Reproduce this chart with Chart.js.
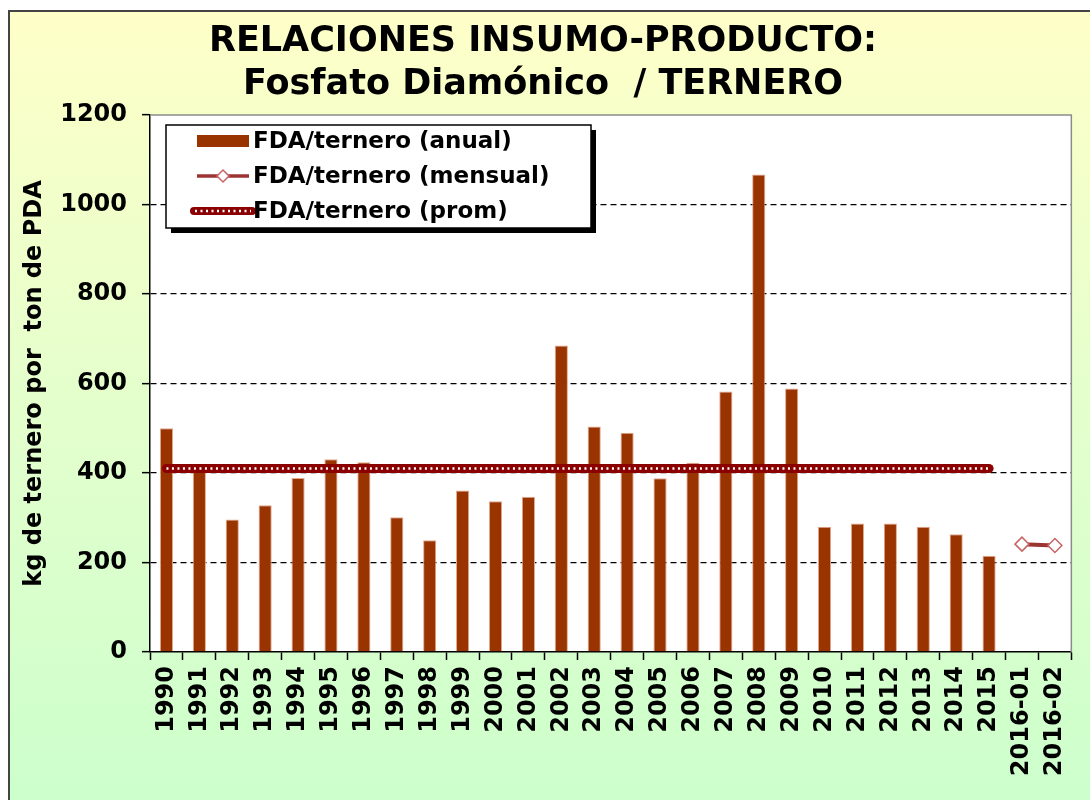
<!DOCTYPE html>
<html>
<head>
<meta charset="utf-8">
<script src="https://cdn.jsdelivr.net/npm/chart.js@4"></script>
<style>
  html, body { margin: 0; padding: 0; background: #ffffff; }
  #wrap { width: 1090px; height: 800px; position: relative; }
</style>
</head>
<body>
<div id="wrap"><canvas id="c" width="1090" height="800"></canvas></div>
<script>
// Categories: years and the first months of 2016
const categories = ['1990','1991','1992','1993','1994','1995','1996','1997','1998','1999',
  '2000','2001','2002','2003','2004','2005','2006','2007','2008','2009',
  '2010','2011','2012','2013','2014','2015','2016-01','2016-02'];

// kg of calf per ton of diammonium phosphate, yearly
const annualValues = [500, 405, 296, 328, 389, 431, 424, 301, 250, 361,
  337, 347, 685, 504, 490, 388, 423, 582, 1067, 589,
  280, 287, 287, 280, 263, 215, null, null];

// monthly values for 2016
const monthlyValues = [null, null, null, null, null, null, null, null, null, null,
  null, null, null, null, null, null, null, null, null, null,
  null, null, null, null, null, null, 241, 238];

// long-run average over the yearly series
const averageValues = [410, 410, 410, 410, 410, 410, 410, 410, 410, 410,
  410, 410, 410, 410, 410, 410, 410, 410, 410, 410,
  410, 410, 410, 410, 410, 410, null, null];

const yTicks = [0, 200, 400, 600, 800, 1000, 1200];

const seriesLabels = ['FDA/ternero (anual)', 'FDA/ternero (mensual)', 'FDA/ternero (prom)'];
const titleLines = ['RELACIONES INSUMO-PRODUCTO:', 'Fosfato Diamónico  / TERNERO'];
const yAxisTitle = 'kg de ternero por  ton de PDA';

const BAR = '#993300';
const MONTH = '#9c3434';
const AVG = '#8b0000';
const FAMILY = '"DejaVu Sans", Verdana, sans-serif';
const TICK_FONT = { family: FAMILY, size: 24, weight: 'bold' };

// page background, frame, white plot area and titles
const backdrop = {
  id: 'backdrop',
  beforeDraw(chart) {
    const { ctx, chartArea: a, width, height } = chart;
    ctx.save();
    ctx.fillStyle = '#ffffff';
    ctx.fillRect(0, 0, width, height);
    const g = ctx.createLinearGradient(0, 10, 0, height);
    g.addColorStop(0, '#ffffc8');
    g.addColorStop(0.45, '#e6ffcc');
    g.addColorStop(1, '#ccffcc');
    ctx.fillStyle = g;
    ctx.fillRect(9, 11, width - 9, height - 11);
    ctx.strokeStyle = '#444444';
    ctx.lineWidth = 2;
    ctx.beginPath();
    ctx.moveTo(9, height);
    ctx.lineTo(9, 11);
    ctx.lineTo(width, 11);
    ctx.stroke();
    ctx.fillStyle = '#ffffff';
    ctx.fillRect(a.left, a.top, a.right - a.left, a.bottom - a.top);
    ctx.fillStyle = '#000000';
    ctx.textAlign = 'center';
    ctx.textBaseline = 'middle';
    ctx.font = 'bold 35px ' + FAMILY;
    ctx.fillText(titleLines[0], 543, 42);
    ctx.fillText(titleLines[1], 543, 85);
    ctx.restore();
  },
  beforeDatasetsDraw(chart) {
    const { ctx, chartArea: a } = chart;
    ctx.save();
    ctx.strokeStyle = '#8c8c8c';
    ctx.lineWidth = 1.5;
    ctx.beginPath();
    ctx.moveTo(a.left, a.top);
    ctx.lineTo(a.right, a.top);
    ctx.lineTo(a.right, a.bottom);
    ctx.stroke();
    ctx.restore();
  }
};

// white dotted overlay on the thick average line
const dottedAverage = {
  id: 'dottedAverage',
  afterDatasetDraw(chart, args) {
    if (args.index !== 2) return;
    const pts = args.meta.data.filter((p, i) => averageValues[i] !== null);
    if (!pts.length) return;
    const { ctx } = chart;
    ctx.save();
    ctx.strokeStyle = '#ffffff';
    ctx.lineWidth = 2.5;
    ctx.setLineDash([2, 3.5]);
    ctx.beginPath();
    ctx.moveTo(pts[0].x, pts[0].y);
    ctx.lineTo(pts[pts.length - 1].x, pts[pts.length - 1].y);
    ctx.stroke();
    ctx.restore();
  }
};

// boxed legend with a drop shadow inside the plot area
const boxLegend = {
  id: 'boxLegend',
  afterDraw(chart) {
    const { ctx } = chart;
    const x = 166, y = 125, w = 425, h = 103;
    ctx.save();
    ctx.fillStyle = '#000000';
    ctx.fillRect(x + 5, y + 5, w, h);
    ctx.fillStyle = '#ffffff';
    ctx.fillRect(x, y, w, h);
    ctx.strokeStyle = '#000000';
    ctx.lineWidth = 1.5;
    ctx.strokeRect(x, y, w, h);
    const rows = [141, 176, 211];
    const sx0 = 197, sx1 = 249;
    // bars
    ctx.fillStyle = BAR;
    ctx.fillRect(sx0, rows[0] - 6, sx1 - sx0, 12);
    // monthly line with diamond marker
    ctx.strokeStyle = MONTH;
    ctx.lineWidth = 3.5;
    ctx.beginPath();
    ctx.moveTo(sx0, rows[1]);
    ctx.lineTo(sx1, rows[1]);
    ctx.stroke();
    const mx = (sx0 + sx1) / 2;
    ctx.fillStyle = '#ffffff';
    ctx.strokeStyle = '#c86464';
    ctx.lineWidth = 1.5;
    ctx.beginPath();
    ctx.moveTo(mx, rows[1] - 6);
    ctx.lineTo(mx + 6, rows[1]);
    ctx.lineTo(mx, rows[1] + 6);
    ctx.lineTo(mx - 6, rows[1]);
    ctx.closePath();
    ctx.fill();
    ctx.stroke();
    // average line
    ctx.strokeStyle = AVG;
    ctx.lineWidth = 8;
    ctx.lineCap = 'round';
    ctx.beginPath();
    ctx.moveTo(sx0 - 3, rows[2]);
    ctx.lineTo(sx1 + 3, rows[2]);
    ctx.stroke();
    ctx.lineCap = 'butt';
    ctx.strokeStyle = '#ffffff';
    ctx.lineWidth = 2.5;
    ctx.setLineDash([2, 3.5]);
    ctx.beginPath();
    ctx.moveTo(sx0 - 2, rows[2]);
    ctx.lineTo(sx1 + 2, rows[2]);
    ctx.stroke();
    ctx.setLineDash([]);
    // labels
    ctx.fillStyle = '#000000';
    ctx.textAlign = 'left';
    ctx.textBaseline = 'middle';
    ctx.font = 'bold 23px ' + FAMILY;
    seriesLabels.forEach((t, i) => ctx.fillText(t, 253, rows[i] + 1));
    ctx.restore();
  }
};

new Chart(document.getElementById('c'), {
  data: {
    labels: categories,
    datasets: [
      {
        type: 'bar',
        label: seriesLabels[0],
        data: annualValues,
        backgroundColor: BAR,
        borderColor: '#e3a98e',
        borderWidth: 1,
        barPercentage: 0.8,
        categoryPercentage: 0.5,
        order: 3
      },
      {
        type: 'line',
        label: seriesLabels[1],
        data: monthlyValues,
        borderColor: MONTH,
        borderWidth: 4,
        pointStyle: 'rectRot',
        pointRadius: 7,
        pointBackgroundColor: '#ffffff',
        pointBorderColor: '#c86464',
        pointBorderWidth: 1.5,
        spanGaps: false,
        order: 1
      },
      {
        type: 'line',
        label: seriesLabels[2],
        data: averageValues,
        borderColor: AVG,
        borderWidth: 9,
        pointRadius: 0,
        borderCapStyle: 'round',
        order: 2
      }
    ]
  },
  options: {
    responsive: false,
    animation: false,
    events: [],
    layout: { padding: { top: 115, right: 17, bottom: 0, left: 0 } },
    plugins: {
      legend: { display: false },
      title: { display: false },
      tooltip: { enabled: false }
    },
    scales: {
      x: {
        offset: true,
        grid: {
          offset: true,
          drawOnChartArea: false,
          drawTicks: true,
          tickLength: 8,
          tickColor: '#000000',
          tickWidth: 1.5
        },
        border: { color: '#000000', width: 1.5 },
        ticks: {
          color: '#000000',
          font: TICK_FONT,
          minRotation: 90,
          maxRotation: 90,
          autoSkip: false,
          padding: 6
        },
        afterFit(scale) { scale.height = 148; }
      },
      y: {
        min: 0,
        max: 1200,
        afterBuildTicks(scale) { scale.ticks = yTicks.map(v => ({ value: v })); },
        grid: {
          color: ctx => (ctx.tick && (ctx.tick.value === 0 || ctx.tick.value === 1200)) ? 'rgba(0,0,0,0)' : '#000000',
          lineWidth: 1.3,
          drawTicks: true,
          tickLength: 8,
          tickColor: '#000000',
          tickWidth: 1.5,
          tickBorderDash: []
        },
        border: { color: '#000000', width: 1.5, dash: [6, 4] },
        ticks: {
          color: '#000000',
          font: TICK_FONT,
          padding: 15,
          callback: v => String(v)
        },
        title: {
          display: true,
          text: yAxisTitle,
          color: '#000000',
          font: { family: FAMILY, size: 24, weight: 'bold' },
          padding: { top: 20, bottom: 0 }
        },
        afterFit(scale) { scale.width = 150; }
      }
    }
  },
  plugins: [backdrop, dottedAverage, boxLegend]
});
</script>
</body>
</html>
